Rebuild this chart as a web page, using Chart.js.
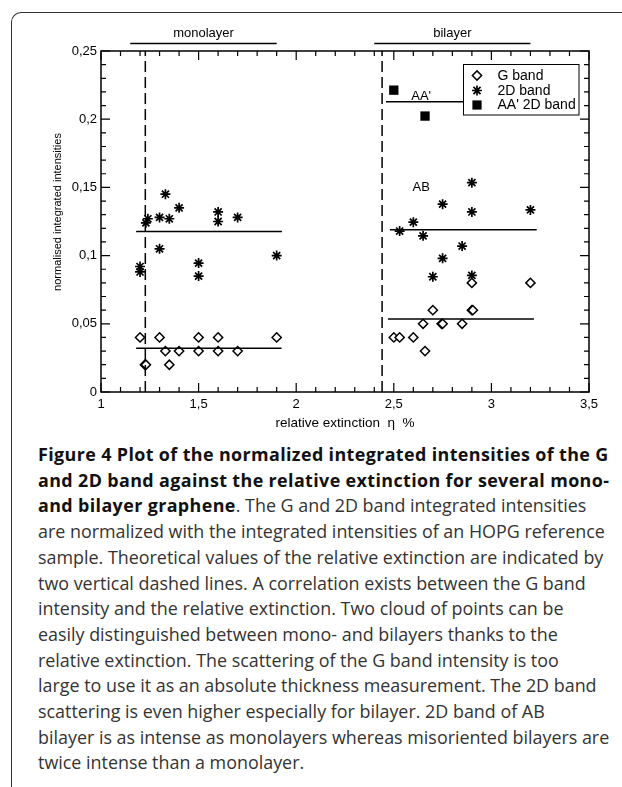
<!DOCTYPE html>
<html>
<head>
<meta charset="utf-8">
<script src="https://cdn.jsdelivr.net/npm/chart.js@4.4.0/dist/chart.umd.min.js"></script>
<style>
  html, body { margin: 0; padding: 0; background: #fff; }
  body { width: 622px; height: 787px; position: relative; overflow: hidden; }
  #frame { position: absolute; left: 11px; top: 12px; width: 700px; height: 900px;
           border-top: 1.5px solid #333; border-left: 1.5px solid #333; border-top-left-radius: 10px; }
  #chart { position: absolute; left: 0; top: 0; }
  #caption { position: absolute; left: 38px; top: 442px; font-family: "Open Sans", sans-serif;
             font-size: 17.9px; line-height: 25.7px; color: #333; white-space: nowrap; }
  #caption b { color: #111; letter-spacing: 0.38px; }
</style>
</head>
<body>
<div id="frame"></div>
<canvas id="chart" width="622" height="440"></canvas>
<div id="caption">
<b>Figure 4 Plot of the normalized integrated intensities of the G</b><br>
<b>and 2D band against the relative extinction for several mono-</b><br>
<b>and bilayer graphene</b>. The G and 2D band integrated intensities<br>
are normalized with the integrated intensities of an HOPG reference<br>
sample. Theoretical values of the relative extinction are indicated by<br>
two vertical dashed lines. A correlation exists between the G band<br>
intensity and the relative extinction. Two cloud of points can be<br>
easily distinguished between mono- and bilayers thanks to the<br>
relative extinction. The scattering of the G band intensity is too<br>
large to use it as an absolute thickness measurement. The 2D band<br>
scattering is even higher especially for bilayer. 2D band of AB<br>
bilayer is as intense as monolayers whereas misoriented bilayers are<br>
twice intense than a monolayer.
</div>
<script>
// G band (mono + bilayer)
const gBandX = [1.2, 1.225, 1.23, 1.3, 1.33, 1.35, 1.4, 1.5, 1.5, 1.6, 1.6, 1.7, 1.9,
                2.5, 2.53, 2.6, 2.65, 2.66, 2.7, 2.745, 2.75, 2.85, 2.9, 2.905, 2.9, 3.2];
const gBandY = [0.04, 0.02, 0.02, 0.04, 0.03, 0.02, 0.03, 0.04, 0.03, 0.04, 0.03, 0.03, 0.04,
                0.04, 0.04, 0.04, 0.05, 0.03, 0.06, 0.05, 0.05, 0.05, 0.06, 0.06, 0.08, 0.08];

// 2D band (mono + AB bilayer)
const d2BandX = [1.2, 1.2, 1.23, 1.24, 1.3, 1.3, 1.33, 1.35, 1.4, 1.5, 1.5, 1.6, 1.6, 1.7, 1.9,
                 2.53, 2.6, 2.65, 2.7, 2.75, 2.75, 2.85, 2.9, 2.9, 2.9, 3.2];
const d2BandY = [0.092, 0.088, 0.124, 0.127, 0.128, 0.105, 0.145, 0.127, 0.135, 0.0945, 0.085, 0.132, 0.125, 0.128, 0.1,
                 0.118, 0.1245, 0.1145, 0.0845, 0.1377, 0.098, 0.107, 0.1535, 0.132, 0.0855, 0.1335];

// AA' 2D band
const aaX = [2.5, 2.66];
const aaY = [0.2213, 0.2023];

// mean lines
const meanNames = ['monoG', 'mono2D', 'biG', 'bi2D', 'aa2D'];
const meanStart = [1.18, 1.18, 2.47, 2.48, 2.46];
const meanEnd = [1.925, 1.927, 3.218, 3.232, 3.2];
const meanValue = [0.032, 0.1177, 0.0535, 0.1189, 0.2128];

// theoretical extinction (dashed)
const theoryX = [1.227, 2.44];

// group labels above the plot
const groupLabels = ['monolayer', 'bilayer'];
const groupStart = [1.15, 2.40];
const groupEnd = [1.9, 3.2];

// text annotations inside
const noteText = ["AA'", 'AB'];
const noteX = [2.64, 2.64];
const noteY = [0.217, 0.150];

const legendNames = ['G band', '2D band', "AA' 2D band"];

const xTicks = [1, 1.5, 2, 2.5, 3, 3.5];
const yTicks = [0, 0.05, 0.1, 0.15, 0.2, 0.25];

const FONT = '"Liberation Sans", Arial, sans-serif';
const comma = v => String(Number(v.toFixed(2))).replace('.', ',');

const toPts = (xs, ys) => xs.map((x, i) => ({ x: x, y: ys[i] }));

const datasets = [];
theoryX.forEach(t => datasets.push({
  label: 'theory', data: [{ x: t, y: 0 }, { x: t, y: 0.25 }], showLine: true,
  borderColor: '#000', borderWidth: 1.5, borderDash: [11, 5], pointRadius: 0
}));
meanNames.forEach((n, i) => datasets.push({
  label: n, data: [{ x: meanStart[i], y: meanValue[i] }, { x: meanEnd[i], y: meanValue[i] }],
  showLine: true, borderColor: '#000', borderWidth: 1.5, pointRadius: 0
}));
datasets.push({
  label: 'G band', data: toPts(gBandX, gBandY), pointStyle: 'rectRot', pointRadius: 4.6,
  backgroundColor: '#fff', borderColor: '#000', borderWidth: 1.5
});
datasets.push({
  label: '2D band', data: toPts(d2BandX, d2BandY), pointStyle: 'star', pointRadius: 5,
  borderColor: '#000', borderWidth: 1.7
});
datasets.push({
  label: "AA' 2D band", data: toPts(aaX, aaY), pointStyle: 'rect', pointRadius: 6.6,
  backgroundColor: '#000', borderColor: '#000', borderWidth: 0
});

function symbol(ctx, kind, x, y) {
  ctx.beginPath();
  if (kind === 0) {
    const r = 4.6;
    ctx.moveTo(x, y - r); ctx.lineTo(x + r, y); ctx.lineTo(x, y + r); ctx.lineTo(x - r, y); ctx.closePath();
    ctx.fillStyle = '#fff'; ctx.fill(); ctx.lineWidth = 1.5; ctx.stroke();
  } else if (kind === 1) {
    const r = 5;
    for (let k = 0; k < 4; k++) {
      const a = k * Math.PI / 4;
      ctx.moveTo(x - r * Math.cos(a), y - r * Math.sin(a));
      ctx.lineTo(x + r * Math.cos(a), y + r * Math.sin(a));
    }
    ctx.lineWidth = 1.7; ctx.stroke();
  } else {
    ctx.fillStyle = '#000'; ctx.fillRect(x - 4.6, y - 4.6, 9.2, 9.2);
  }
}

const decor = {
  id: 'decor',
  afterDatasetsDraw(chart) {
    const { ctx, chartArea: a, scales: { x, y } } = chart;
    ctx.save();
    ctx.strokeStyle = '#000';
    ctx.fillStyle = '#000';
    // box
    ctx.lineWidth = 1.5;
    ctx.strokeRect(a.left, a.top, a.right - a.left, a.bottom - a.top);
    // inward ticks
    ctx.lineWidth = 1.2;
    ctx.beginPath();
    for (let i = 0; i <= 25; i++) {
      const v = 1 + i * 0.1, px = x.getPixelForValue(v), len = i % 5 === 0 ? 9 : 5;
      ctx.moveTo(px, a.bottom); ctx.lineTo(px, a.bottom - len);
      ctx.moveTo(px, a.top); ctx.lineTo(px, a.top + len);
    }
    for (let i = 0; i <= 25; i++) {
      const v = i * 0.01, py = y.getPixelForValue(v), len = i % 5 === 0 ? 9 : 5;
      ctx.moveTo(a.left, py); ctx.lineTo(a.left + len, py);
      ctx.moveTo(a.right, py); ctx.lineTo(a.right - len, py);
    }
    ctx.stroke();

    // group labels above
    ctx.font = '13px ' + FONT;
    ctx.textAlign = 'center';
    ctx.textBaseline = 'middle';
    ctx.lineWidth = 1.5;
    groupLabels.forEach((t, i) => {
      const x0 = x.getPixelForValue(groupStart[i]), x1 = x.getPixelForValue(groupEnd[i]);
      ctx.fillText(t, (x0 + x1) / 2, 33);
      ctx.beginPath(); ctx.moveTo(x0, 43.5); ctx.lineTo(x1, 43.5); ctx.stroke();
    });

    // notes
    noteText.forEach((t, i) => ctx.fillText(t, x.getPixelForValue(noteX[i]), y.getPixelForValue(noteY[i])));

    // axis titles
    ctx.font = '13.5px ' + FONT;
    ctx.fillText('relative extinction  \u03B7  %', (a.left + a.right) / 2, 423);
    ctx.save();
    ctx.translate(58, 212);
    ctx.rotate(-Math.PI / 2);
    ctx.font = '11px ' + FONT;
    ctx.fillText('normalised integrated intensities', 0, 0);
    ctx.restore();

    // legend
    const lx = 463.5, ly = 64.5, lw = 115.5, lh = 50.5;
    ctx.fillStyle = '#fff';
    ctx.fillRect(lx, ly, lw, lh);
    ctx.lineWidth = 1;
    ctx.strokeStyle = '#000';
    ctx.strokeRect(lx, ly, lw, lh);
    ctx.font = '14px ' + FONT;
    ctx.textAlign = 'left';
    const rows = [75.5, 90.5, 105];
    legendNames.forEach((n, i) => {
      ctx.strokeStyle = '#000';
      symbol(ctx, i, 477, rows[i]);
      ctx.fillStyle = '#000';
      ctx.fillText(n, 497.5, rows[i] + 0.5);
    });
    ctx.restore();
  }
};

new Chart(document.getElementById('chart'), {
  type: 'scatter',
  data: { datasets: datasets },
  plugins: [decor],
  options: {
    responsive: false,
    animation: false,
    devicePixelRatio: 1,
    layout: { padding: { left: 0, right: 33, top: 51, bottom: 0 } },
    plugins: { legend: { display: false }, tooltip: { enabled: false } },
    scales: {
      x: {
        type: 'linear', min: 1, max: 3.5,
        afterFit: s => { s.height = 48; },
        afterBuildTicks: s => { s.ticks = xTicks.map(v => ({ value: v })); },
        grid: { display: false, drawTicks: false },
        border: { display: false },
        ticks: { padding: 5, color: '#000', font: { family: FONT, size: 13 }, callback: v => comma(v), maxRotation: 0 }
      },
      y: {
        type: 'linear', min: 0, max: 0.25,
        afterFit: s => { s.width = 101; },
        afterBuildTicks: s => { s.ticks = yTicks.map(v => ({ value: v })); },
        grid: { display: false, drawTicks: false },
        border: { display: false },
        ticks: { padding: 4, color: '#000', font: { family: FONT, size: 13 }, callback: v => comma(v) }
      }
    }
  }
});
</script>
</body>
</html>
